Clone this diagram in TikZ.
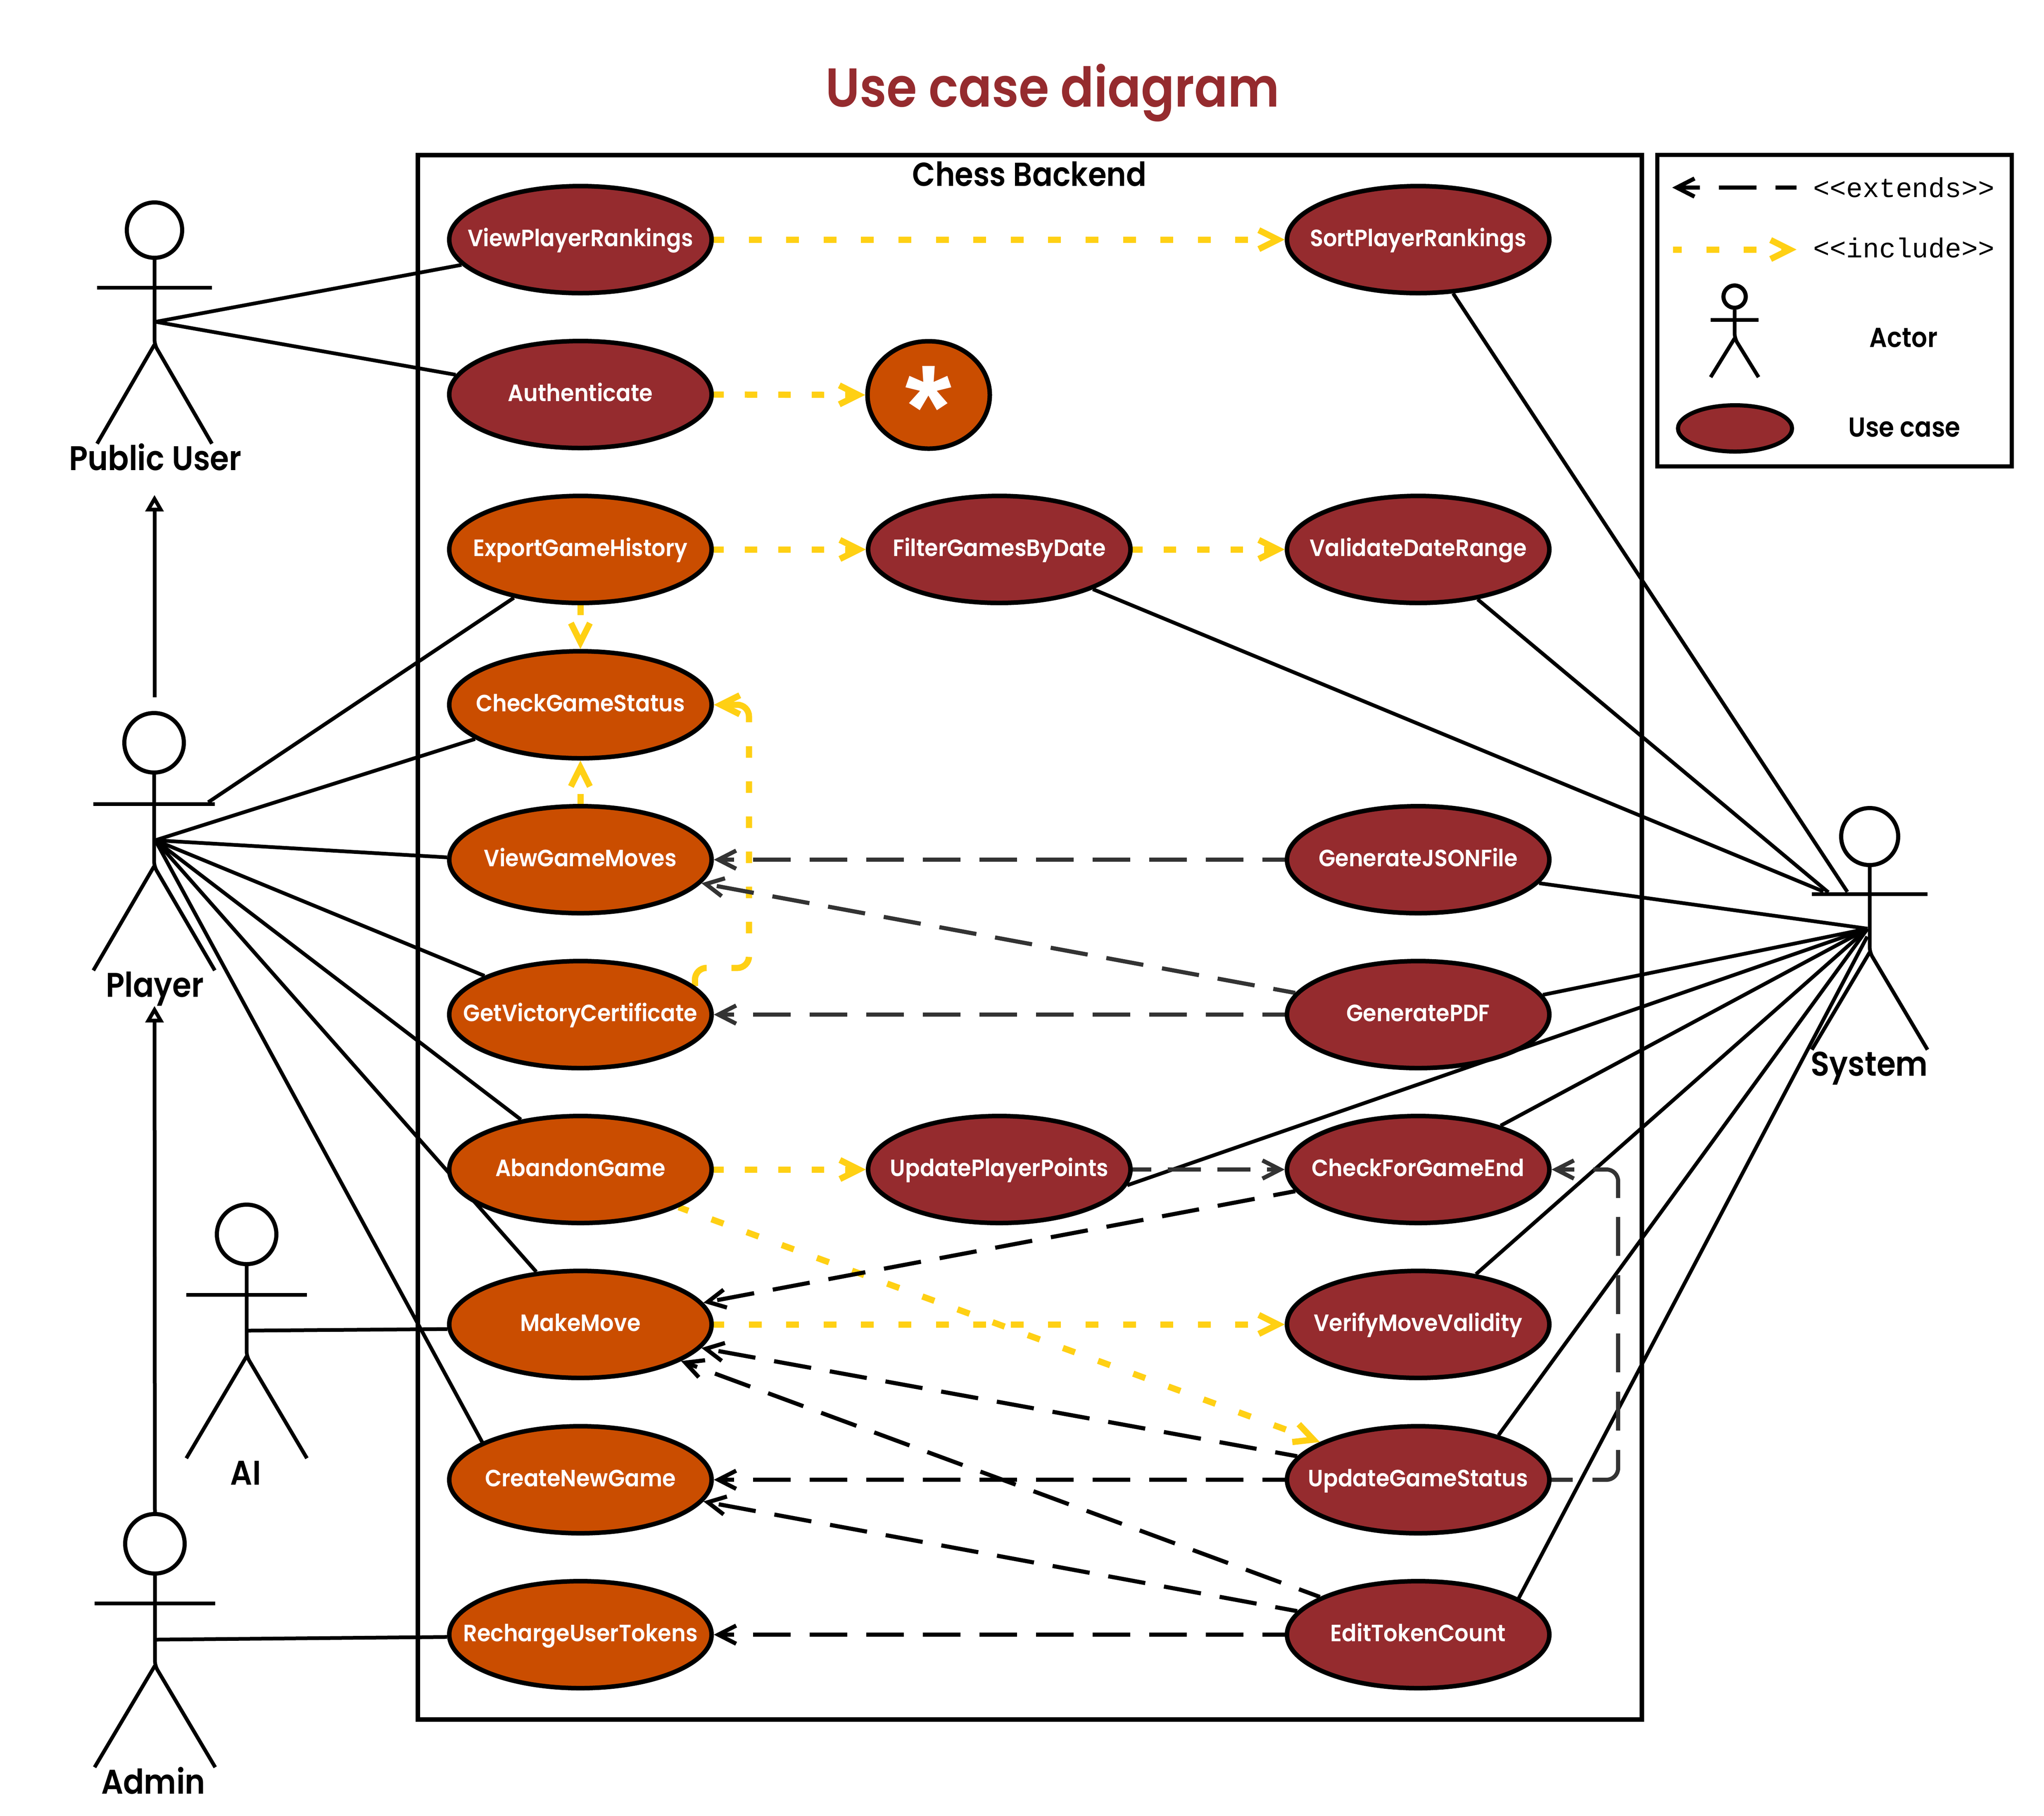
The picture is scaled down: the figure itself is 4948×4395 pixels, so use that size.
\documentclass[tikz,border=0pt]{standalone}
\usepackage{fontspec}
\setmainfont[FakeStretch=0.9,BoldFont={Poppins SemiBold}]{Poppins}
\newfontfamily\ucf[FakeStretch=0.92,BoldFont={Poppins SemiBold}]{Poppins}
\newfontfamily\monof{Liberation Mono}
\newfontfamily\astf{Liberation Sans}
\usetikzlibrary{arrows.meta,shapes.geometric}
\pgfdeclarelayer{bg}
\pgfsetlayers{bg,main}
\definecolor{ucred}{HTML}{952B2E}
\definecolor{ucorange}{HTML}{CA4D00}
\definecolor{incyellow}{HTML}{FFD014}
\definecolor{extgray}{HTML}{333333}
\newcommand{\uct}[1]{\makebox[0pt][c]{#1}}
\tikzset{
  uc/.style={ellipse,draw=black,line width=2.75pt,inner sep=0pt,minimum width=158.75pt,minimum height=64.75pt,
    text=white,font=\ucf\fontsize{14.3}{15}\selectfont\bfseries,text height=9.5pt,text depth=1.5pt},
  ucr/.style={uc,fill=ucred},
  uco/.style={uc,fill=ucorange},
  assoc/.style={line width=2.25pt,black},
  ext/.style={line width=2.5pt,black,dash pattern=on 22.75pt off 11.5pt,dash phase=9.25pt,-{Straight Barb[length=10.75pt,width=11pt]}},
  extg/.style={ext,extgray},
  inc/.style={line width=3.75pt,incyellow,dash pattern=on 7.75pt off 14.9pt,dash phase=1.5pt,-{Straight Barb[length=11.5pt,width=11.5pt]}},
  incs/.style={inc,dash pattern=on 7.5pt off 12.75pt,dash phase=1.5pt},
  gen/.style={line width=2.25pt,black,-{Triangle[open,length=10pt,width=10.75pt,fill=white]}},
  alabel/.style={anchor=base,font=\fontsize{20.7}{24}\selectfont\bfseries,text=black},
  ahead/.style={circle,draw=black,line width=2.5pt,inner sep=0pt,fill=white},
  limb/.style={line width=2.25pt,black},
}
% #1 name #2 hx #3 hy #4 head diameter(pt) #5 armY #6 half arm #7 hipY #8 footY
\newcommand{\stickactor}[8]{%
  \node[ahead,minimum size=#4] (#1) at (#2,#3) {};
  \draw[limb] (#2-#6,#5) -- (#2+#6,#5);
  \draw[limb,rounded corners=3pt] (#1.south) -- (#2,#7) -- (#2+#6,#8);
  \draw[limb] (#2,#7) -- (#2-#6,#8);
}
\begin{document}
\begin{tikzpicture}[x=0.25pt,y=-0.25pt]
\useasboundingbox (0,0) rectangle (4948,4395);
% texts
\node[anchor=base,text=ucred,font=\fontsize{33.1}{36}\selectfont\bfseries] (title) at (2548,258) {Use case diagram};
\node[anchor=base,font=\fontsize{20.1}{22}\selectfont\bfseries] (chess) at (2492,450) {Chess Backend};
% use cases
\def\xA{1405}\def\xB{2419}\def\xC{3433}
\node[ucr] (vpr) at (\xA,580) {\uct{ViewPlayerRankings}};
\node[ucr] (auth) at (\xA,955) {\uct{Authenticate}};
\node[uco] (egh) at (\xA,1330) {\uct{ExportGameHistory}};
\node[uco] (cgs) at (\xA,1706) {\uct{CheckGameStatus}};
\node[uco] (vgm) at (\xA,2081) {\uct{ViewGameMoves}};
\node[uco] (gvc) at (\xA,2456) {\uct{GetVictoryCertificate}};
\node[uco] (ag) at (\xA,2831) {\uct{AbandonGame}};
\node[uco] (mm) at (\xA,3206) {\uct{MakeMove}};
\node[uco] (cng) at (\xA,3582) {\uct{CreateNewGame}};
\node[uco] (rut) at (\xA,3957) {\uct{RechargeUserTokens}};
\node[ellipse,draw=black,line width=2.75pt,fill=ucorange,inner sep=0pt,minimum width=74pt,minimum height=65pt,text=white,font=\astf\fontsize{72}{72}\selectfont\bfseries] (star) at (2248,956) {\smash{\raisebox{-32pt}{\uct{*}}}};
\node[ucr] (fgbd) at (\xB,1330) {\uct{FilterGamesByDate}};
\node[ucr] (upp) at (\xB,2831) {\uct{UpdatePlayerPoints}};
\node[ucr] (spr) at (\xC,580) {\uct{SortPlayerRankings}};
\node[ucr] (vdr) at (\xC,1330) {\uct{ValidateDateRange}};
\node[ucr] (json) at (\xC,2081) {\uct{GenerateJSONFile}};
\node[ucr] (pdf) at (\xC,2456) {\uct{GeneratePDF}};
\node[ucr] (cfge) at (\xC,2831) {\uct{CheckForGameEnd}};
\node[ucr] (vmv) at (\xC,3206) {\uct{VerifyMoveValidity}};
\node[ucr] (ugs) at (\xC,3582) {\uct{UpdateGameStatus}};
\node[ucr] (etc) at (\xC,3957) {\uct{EditTokenCount}};
% actors
\stickactor{pub}{374}{557}{33.5pt}{696}{139}{834}{1074}
\stickactor{pl}{373}{1798}{36pt}{1946}{147}{2097}{2349}
\stickactor{aiH}{597}{2988}{36pt}{3134}{146}{3283}{3530}
\stickactor{adm}{375}{3737}{36pt}{3881}{146}{4032}{4278}
\stickactor{sys}{4526}{2025}{34.5pt}{2164}{140}{2305}{2541}
\node[alabel] (pubL) at (376,1138) {Public User};
\node[alabel] (plL) at (375,2413) {Player};
\node[alabel] (aiL) at (595,3594) {AI};
\node[alabel] (admL) at (371,4342) {Admin};
\node[alabel] (sysL) at (4525,2604) {System};
% junctions
\coordinate (pubJ) at (377,779);
\coordinate (plJ) at (376,2034);
\coordinate (plArm) at (504,1942);
\coordinate (aiJ) at (600,3221);
\coordinate (admJ) at (376,3969);
\coordinate (sysJ) at (4521,2248);
\coordinate (sysK) at (4520,2267);
\coordinate (sysA) at (4472,2159);
\coordinate (sysB) at (4426,2160);
\coordinate (sysC) at (4414,2158);
\coordinate (plTail) at (374,1688);
\coordinate (pubTip) at (374,1198);
\coordinate (plTip) at (374,2435);
\coordinate (gvcBend) at (1813,2343);
\coordinate (cfgeBend) at (3917,3200);
% legend
\node[ellipse,draw=black,line width=2.5pt,fill=ucred,inner sep=0pt,minimum width=69pt,minimum height=28pt] (lgE) at (4200,1037) {};
\stickactor{lgA}{4199}{718}{13.5pt}{774}{58}{819}{913}
\coordinate (lgX1) at (4349,454);
\coordinate (lgX2) at (4048,454);
\coordinate (lgI1) at (4050,604);
\coordinate (lgI2) at (4349,604);
\node[anchor=base,font=\monof\fontsize{16.6}{18}\selectfont] (lgXt) at (4609,477) {<{}<extends>{}>};
\node[anchor=base,font=\monof\fontsize{16.6}{18}\selectfont] (lgIt) at (4609,623) {<{}<include>{}>};
\node[anchor=base,font=\fontsize{16.6}{18}\selectfont\bfseries] (lgAt) at (4608,840) {Actor};
\node[anchor=base,font=\fontsize{16.6}{18}\selectfont\bfseries] (lgUt) at (4610,1057) {Use case};
\begin{pgfonlayer}{bg}
\fill[white] (0,0) rectangle (4948,4395);
\draw[line width=2.75pt] (1011,375) rectangle (3974,4162);
\draw[line width=2.5pt] (4012,375) rectangle (4870,1129);
% associations
\draw[assoc] (pubJ) -- (vpr.192.5);
\draw[assoc] (pubJ) -- (auth.171.7);
\draw[assoc] (plArm) -- (egh.216.7);
\draw[assoc] (plJ) -- (cgs.198.8);
\draw[assoc] (plJ) -- (vgm.179);
\draw[assoc] (plJ) -- (gvc.158.5);
\draw[assoc] (plJ) -- (ag.140.8);
\draw[assoc] (plJ) -- (mm.130.9);
\draw[assoc] (plJ) -- (cng.159);
\draw[assoc] (aiJ) -- (mm.182.3);
\draw[assoc] (admJ) -- (rut.181.8);
\draw[assoc] (spr.303) -- (sysA);
\draw[assoc] (vdr.320.9) -- (sysB);
\draw[assoc] (fgbd.337.5) -- (sysC);
\draw[assoc] (json.349.7) -- (sysJ);
\draw[assoc] (pdf.9.4) -- (sysJ);
\draw[assoc] (upp.353.6) -- (sysJ);
\draw[assoc] (cfge.28.1) -- (sysJ);
\draw[assoc] (vmv.41.5) -- (sysJ);
\draw[assoc] (ugs.29) -- (sysJ);
\draw[assoc] (etc.20.2) -- (sysK);
% generalisation
\draw[gen] (plTail) -- (pubTip);
\draw[gen] (adm.north) -- (plTip);
% include
\draw[inc] (vpr.0) -- (spr.180);
\draw[incs] (auth.0) -- (star.180);
\draw[incs] (egh.0) -- (fgbd.180);
\draw[incs] (fgbd.0) -- (vdr.180);
\draw[incs] (egh.270) -- (cgs.90);
\draw[incs] (vgm.90) -- (cgs.270);
\draw[inc,rounded corners=7pt,dash phase=0pt,dash pattern=on 15pt off 15pt on 14.25pt off 14.25pt on 7pt off 14.25pt on 7pt off 14.25pt on 7pt off 14.25pt on 7pt off 14.25pt on 7pt off 14.25pt on 7pt off 14.5pt on 50pt off 10pt] (gvc.14.6) |- (gvcBend) |- (cgs.0);
\draw[incs] (ag.0) -- (upp.180);
\draw[inc] (ag.339) -- (ugs.159.2);
\draw[inc] (mm.0) -- (vmv.180);
% extends
\draw[extg] (json.180) -- (vgm.0);
\draw[extg] (pdf.170) -- (vgm.349.5);
\draw[extg] (pdf.180) -- (gvc.0);
\draw[extg,dash pattern=on 20pt off 10pt,dash phase=8.75pt] (upp.0) -- (cfge.180);
\draw[extg,rounded corners=7pt,dash phase=0pt,dash pattern=on 12.75pt off 12pt on 30.5pt off 11.75pt on 23.5pt off 11.75pt on 23.5pt off 11.75pt on 23.5pt off 11.75pt on 23.5pt off 11.5pt on 29.25pt off 11.5pt on 40pt off 10pt] (ugs.0) -| (cfgeBend) |- (cfge.0);
\draw[ext] (cfge.190.1) -- (mm.10.6);
\draw[ext] (ugs.169) -- (mm.349.6);
\draw[ext] (etc.159) -- (mm.340);
\draw[ext] (ugs.180) -- (cng.0);
\draw[ext] (etc.169.1) -- (cng.350);
\draw[ext] (etc.180) -- (rut.0);
\draw[ext,dash phase=10pt] (lgX1) -- (lgX2);
\draw[inc,dash phase=2.5pt] (lgI1) -- (lgI2);
\end{pgfonlayer}
\end{tikzpicture}
\end{document}
